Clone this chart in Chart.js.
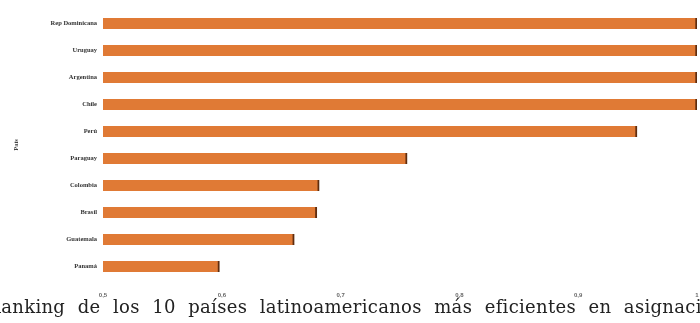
<!DOCTYPE html>
<html>
<head>
<meta charset="utf-8">
<script src="https://cdn.jsdelivr.net/npm/chart.js@4/dist/chart.umd.min.js"></script>
<style>
  html, body { margin: 0; padding: 0; background: #ffffff; overflow: hidden; }
  #wrap { position: relative; width: 700px; height: 323px; overflow: hidden; }
  #chart { position: absolute; left: 0; top: 0; }
  #caption {
    position: absolute; left: -13px; top: 296px; width: 800px;
    font-family: "DejaVu Serif", serif; font-size: 18px; color: #222;
    white-space: nowrap; word-spacing: 6.5px; letter-spacing: 0.3px;
  }
</style>
</head>
<body>
<div id="wrap">
  <canvas id="chart" width="700" height="323"></canvas>
  <div id="caption">Ranking de los 10 países latinoamericanos más eficientes en asignación</div>
</div>
<script>
// Eficiencia por país
const paises = ["Rep Dominicana", "Uruguay", "Argentina", "Chile", "Perú",
                "Paraguay", "Colombia", "Brasil", "Guatemala", "Panamá"];
const eficiencia = [1.0, 1.0, 1.0, 1.0, 0.9495, 0.756, 0.682, 0.680, 0.661, 0.598];
const ejeX = { min: 0.5, max: 1, paso: 0.1 };

const ctx = document.getElementById("chart").getContext("2d");

// Orange bar with a light upper band and a darker lower edge
function barFill(context) {
  const el = context.element;
  const chart = context.chart;
  if (!el || el.y === undefined) return "#e07a35";
  const h = el.height || 11;
  const top = el.y - h / 2;
  const g = chart.ctx.createLinearGradient(0, top, 0, top + h);
  g.addColorStop(0, "#f2b27c");
  g.addColorStop(0.25, "#ec8a45");
  g.addColorStop(0.6, "#de7330");
  g.addColorStop(1, "#a84e1c");
  return g;
}

new Chart(ctx, {
  type: "bar",
  data: {
    labels: paises,
    datasets: [{
      data: eficiencia,
      backgroundColor: barFill,
      borderColor: "#5e2c0e",
      borderWidth: { right: 2, top: 0, bottom: 0, left: 0 },
      borderSkipped: false,
      barThickness: 11
    }]
  },
  options: {
    indexAxis: "y",
    responsive: false,
    animation: false,
    layout: { padding: { top: 8, right: 3, left: 0, bottom: 0 } },
    plugins: { legend: { display: false }, tooltip: { enabled: false } },
    scales: {
      x: {
        min: ejeX.min, max: ejeX.max,
        grid: { display: false, drawTicks: false },
        border: { display: false },
        ticks: {
          stepSize: ejeX.paso,
          padding: 12,
          color: "#666",
          font: { family: "Liberation Sans", size: 6, weight: "bold" },
          callback: v => String(Math.round(v * 10) / 10).replace(".", ",")
        },
        afterFit: s => { s.height = 43; s.paddingLeft = 0; s.paddingRight = 0; }
      },
      y: {
        grid: { display: false, drawTicks: false },
        border: { display: false },
        ticks: {
          padding: 6,
          color: "#333",
          font: { family: "Liberation Serif", size: 6.5, weight: "bold" }
        },
        title: {
          display: true, text: "País", color: "#444",
          padding: { top: 12, bottom: 0 },
          font: { family: "Liberation Serif", size: 6.5, weight: "bold" }
        },
        afterFit: s => { s.width = 103; }
      }
    }
  }
});
</script>
</body>
</html>
